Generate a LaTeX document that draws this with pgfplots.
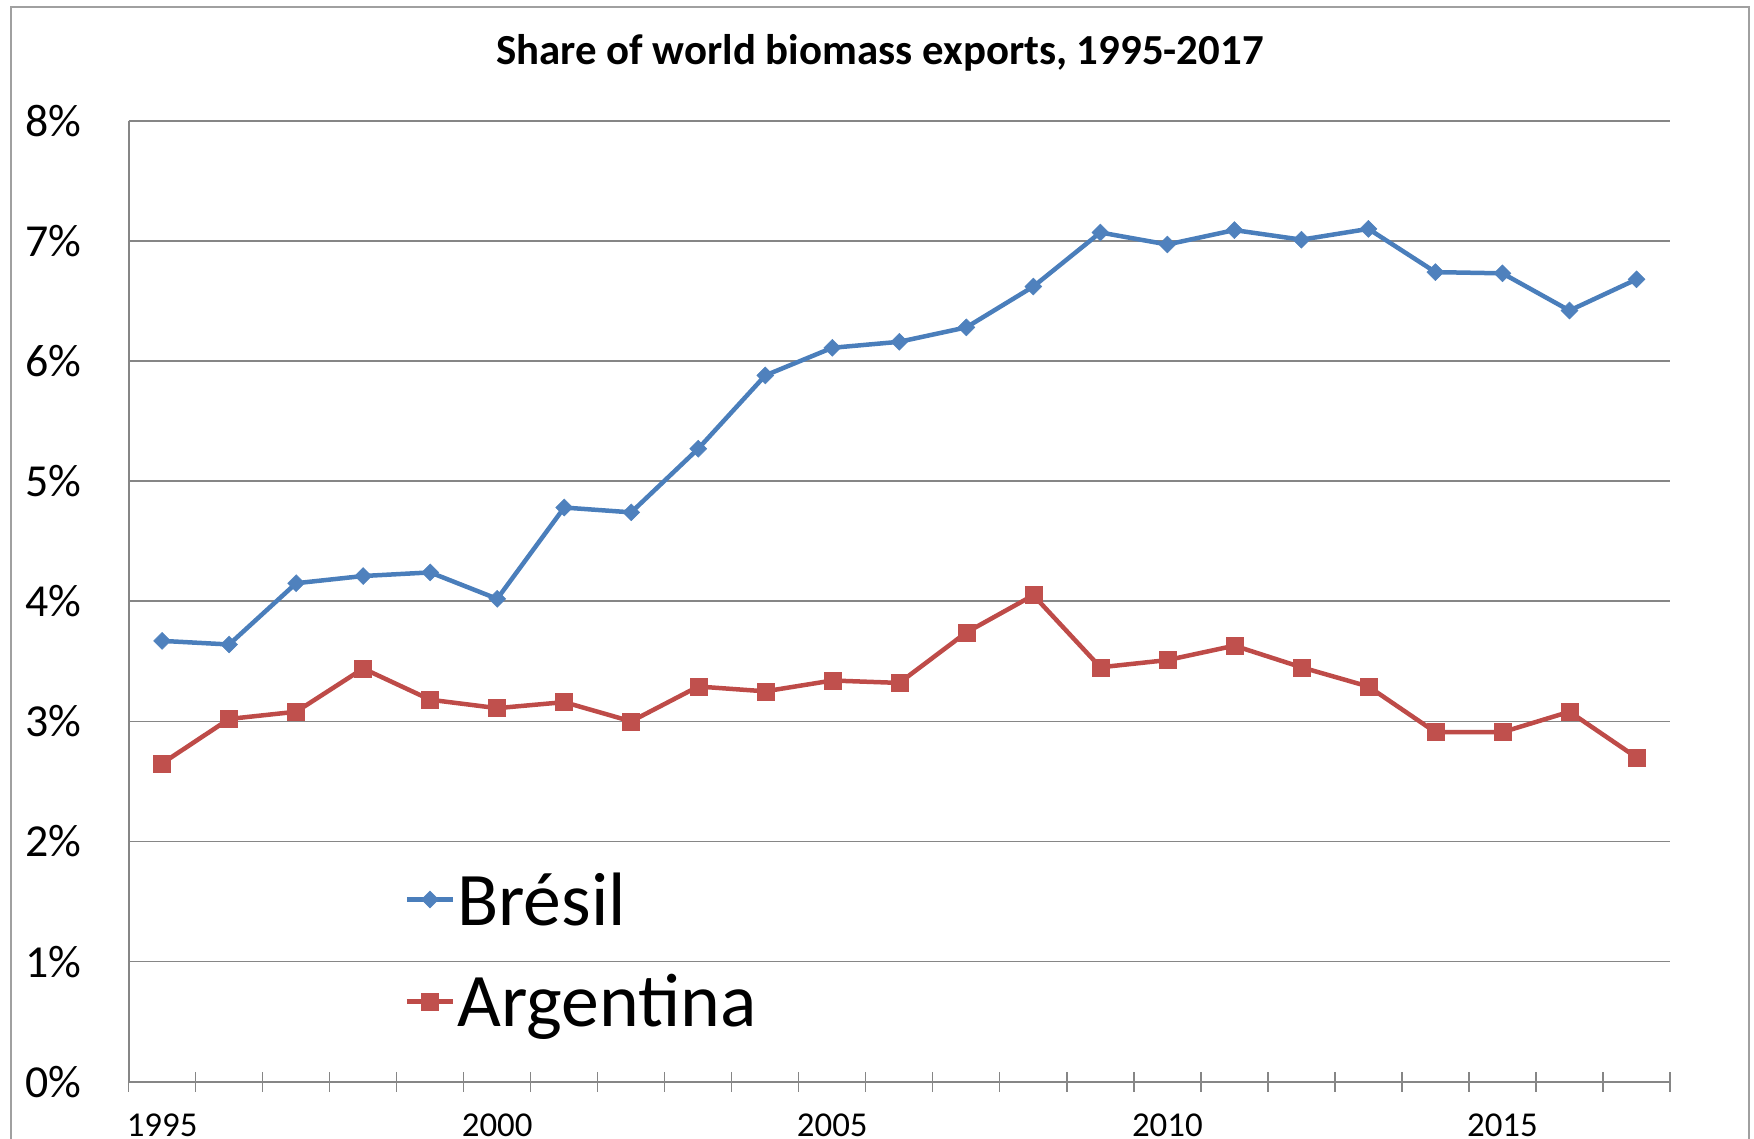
\documentclass[border=0pt]{standalone}
\usepackage{pgfplots}
\pgfplotsset{compat=1.18}
\usepackage{fontspec}
\setmainfont{Carlito}
\definecolor{bresil}{RGB}{74,126,187}
\definecolor{bresilm}{RGB}{79,129,189}
\definecolor{arg}{RGB}{190,75,72}
\definecolor{argm}{RGB}{192,80,77}
\definecolor{axgray}{RGB}{134,134,134}
\definecolor{framegray}{RGB}{160,160,160}
\begin{document}
\begin{tikzpicture}[x=1bp,y=1bp]
\path[use as bounding box] (0,0) rectangle (1754,1138);
\draw[framegray, line width=2bp] (11,-40) -- (11,1131) -- (1749,1131) -- (1749,-40);
\node[font=\fontsize{43}{50}\selectfont\bfseries] at (880,1085) {Share of world biomass exports, 1995-2017};
\begin{axis}[
  at={(128.6bp,56.3bp)}, anchor=south west,
  scale only axis, width=1541.4bp, height=960.9bp,
  xmin=1994.5, xmax=2017.5, ymin=0, ymax=8,
  axis x line*=bottom, axis y line*=left,
  axis line style={axgray, line width=1.8bp},
  xtick={1995,2000,2005,2010,2015},
  xticklabels={1995,2000,2005,2010,2015},
  major x tick style={draw=none},
  minor xtick={1994.5,1995.5,...,2017.5},
  minor x tick style={axgray, line width=1.3bp},
  minor tick length=20bp,
  xtick align=center,
  ytick={0,1,...,8},
  yticklabels={0\%,1\%,2\%,3\%,4\%,5\%,6\%,7\%,8\%},
  major y tick style={draw=none},
  ymajorgrids,
  grid style={axgray, line width=1.5bp},
  xticklabel style={font=\fontsize{35}{42}\selectfont, anchor=north, inner sep=0pt},
  yticklabel style={font=\fontsize{46}{54}\selectfont, anchor=east, inner sep=0pt},
  xticklabel shift=30bp,
  yticklabel shift=47bp,
  legend style={at={(0.179,0.1366)}, anchor=west, draw=none, fill=none,
    font=\fontsize{76}{90}\selectfont, row sep=44bp, inner sep=0pt,
    /tikz/every even column/.append style={column sep=6bp}},
  legend cell align=left,
  legend image code/.code={
    \draw[mark repeat=2,mark phase=2] plot coordinates {(0bp,0bp) (23bp,0bp) (46bp,0bp)};},
  clip=false,
]
\addplot[bresil, line width=4.5bp, mark=square*, mark size=6bp, mark options={rotate=45, fill=bresilm, draw=bresilm, line width=0.5bp}] coordinates {
(1995,3.67) (1996,3.64) (1997,4.15) (1998,4.21) (1999,4.24) (2000,4.02)
(2001,4.78) (2002,4.74) (2003,5.27) (2004,5.88) (2005,6.11) (2006,6.16)
(2007,6.28) (2008,6.62) (2009,7.07) (2010,6.97) (2011,7.09) (2012,7.01)
(2013,7.10) (2014,6.74) (2015,6.73) (2016,6.42) (2017,6.68)};
\addlegendentry{Brésil}
\addplot[arg, line width=4.5bp, mark=square*, mark size=8.5bp, mark options={fill=argm, draw=argm, line width=0.5bp}] coordinates {
(1995,2.65) (1996,3.02) (1997,3.08) (1998,3.44) (1999,3.18) (2000,3.11)
(2001,3.16) (2002,3.00) (2003,3.29) (2004,3.25) (2005,3.34) (2006,3.32)
(2007,3.74) (2008,4.05) (2009,3.45) (2010,3.51) (2011,3.63) (2012,3.45)
(2013,3.29) (2014,2.91) (2015,2.91) (2016,3.08) (2017,2.70)};
\addlegendentry{Argentina}
\end{axis}
\end{tikzpicture}
\end{document}
